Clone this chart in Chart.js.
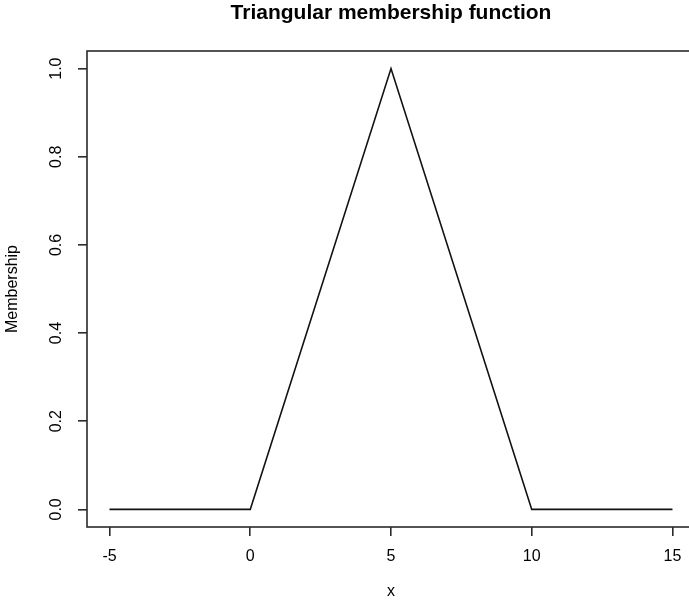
<!DOCTYPE html>
<html>
<head>
<meta charset="utf-8">
<script src="https://cdn.jsdelivr.net/npm/chart.js@4.4.1/dist/chart.umd.min.js"></script>
<style>
  html, body { margin: 0; padding: 0; background: #fff; overflow: hidden; }
  #wrap { width: 782px; height: 601px; }
</style>
</head>
<body>
<div id="wrap"><canvas id="chart" width="782" height="601"></canvas></div>
<script>
// triangle breakpoints (a=0, b=5, c=10) plus flat tails
const xValues = [-5, 0, 5, 10, 15];
const membership = [0, 0, 1, 0, 0];
const xTicks = [-5, 0, 5, 10, 15];
const yTicks = [0, 0.2, 0.4, 0.6, 0.8, 1.0];

const FONT = '"Liberation Sans", Arial, Helvetica, sans-serif';
const AXIS = '#2a2a2a';

// R style frame + rotated y tick labels
const rFrame = {
  id: 'rFrame',
  afterDraw(chart) {
    const { ctx, chartArea: a } = chart;
    const y = chart.scales.y;
    ctx.save();
    ctx.strokeStyle = AXIS;
    ctx.lineWidth = 1.6;
    ctx.strokeRect(a.left, a.top, a.right - a.left, a.bottom - a.top);

    ctx.fillStyle = '#000';
    ctx.font = '16px ' + FONT;
    ctx.textAlign = 'center';
    ctx.textBaseline = 'middle';
    yTicks.forEach(v => {
      ctx.save();
      ctx.translate(a.left - 30.5, y.getPixelForValue(v));
      ctx.rotate(-Math.PI / 2);
      ctx.fillText(v.toFixed(1), 0, 0);
      ctx.restore();
    });
    ctx.restore();
  }
};

const chartData = {
  datasets: [
    {
      data: xValues.map((x, i) => ({ x, y: membership[i] })),
      borderColor: '#111',
      borderWidth: 1.6,
      pointRadius: 0,
      tension: 0,
      fill: false
    }
  ]
};

const chartConfig = {
  type: 'line',
  data: chartData,
  plugins: [rFrame],
  options: {
    responsive: false,
    animation: false,
    layout: { padding: 0 },
    scales: {
      x: {
        type: 'linear',
        min: -5.8,
        max: 15.8,
        afterBuildTicks: s => { s.ticks = xTicks.map(value => ({ value })); },
        afterFit: s => { s.height = 74; },
        border: { display: false },
        grid: { drawOnChartArea: false, tickLength: 9, color: AXIS, lineWidth: 1.6 },
        ticks: { color: '#000', font: { family: FONT, size: 16 }, padding: 11, maxRotation: 0 },
        title: { display: true, text: 'x', color: '#000', font: { family: FONT, size: 16 }, padding: { top: 0, bottom: 0 } }
      },
      y: {
        type: 'linear',
        min: -0.04,
        max: 1.04,
        afterBuildTicks: s => { s.ticks = yTicks.map(value => ({ value })); },
        afterFit: s => { s.width = 87; },
        border: { display: false },
        grid: { drawOnChartArea: false, tickLength: 9, color: AXIS, lineWidth: 1.6 },
        ticks: { display: false },
        title: { display: true, text: 'Membership', color: '#000', font: { family: FONT, size: 16 }, padding: { top: 3, bottom: 0 } }
      },
      // empty right margin so the plot (and title) stay centred like R's
      yRight: {
        type: 'linear',
        position: 'right',
        afterFit: s => { s.width = 87; },
        border: { display: false },
        grid: { display: false },
        ticks: { display: false }
      }
    },
    plugins: {
      legend: { display: false },
      tooltip: { enabled: false },
      title: {
        display: true,
        text: 'Triangular membership function',
        color: '#000',
        font: { family: FONT, size: 21, weight: 'bold' },
        padding: { top: 0.4, bottom: 25.4 }
      }
    }
  }
};

new Chart(document.getElementById('chart'), chartConfig);
</script>
</body>
</html>
